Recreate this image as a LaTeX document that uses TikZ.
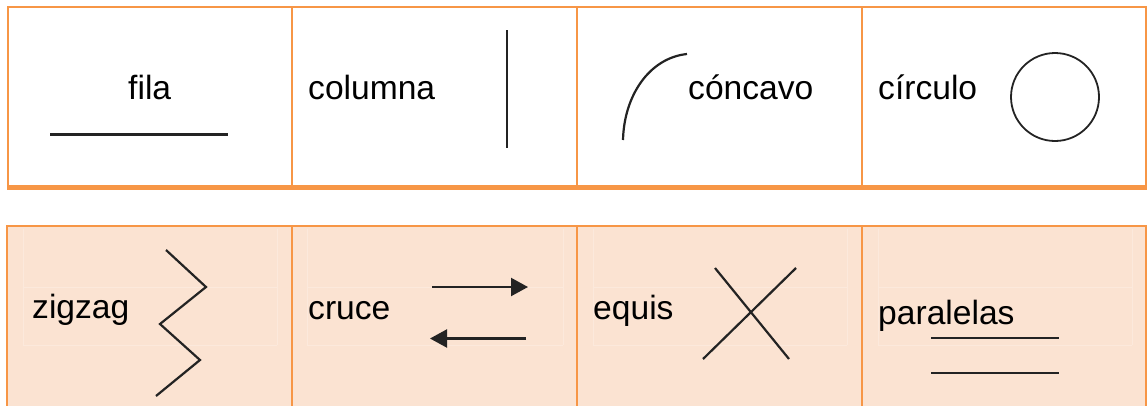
\documentclass[tikz,border=0pt]{standalone}
\usepackage{fontspec}
\setmainfont{Liberation Sans}
\usetikzlibrary{arrows.meta}
\definecolor{orng}{RGB}{247,150,70}
\definecolor{peach}{RGB}{251,227,210}
\definecolor{faint}{RGB}{252,233,220}
\definecolor{ink}{RGB}{35,35,35}
\tikzset{
  lbl/.style={anchor=base west, inner sep=0pt, font=\fontsize{33.6}{40}\selectfont},
  shp/.style={draw=ink, line width=2.2pt},
  border/.style={draw=orng, line width=2pt},
  arr/.style={shp, -{Triangle[length=17pt,width=18pt]}},
}
\begin{document}
\begin{tikzpicture}[x=1pt,y=-1pt]
\useasboundingbox (0,0) rectangle (1147,405);
% bottom row background
\fill[peach] (7,226) rectangle (1146,410);
% faint inner lines of bottom cells
\foreach \a/\b in {23/277,307/563,593/847,878/1132}{
  \draw[faint, line width=1pt] (\a,229) -- (\a,345) (\b,229) -- (\b,345) (\a,287) -- (\b,287) (\a,345) -- (\b,345);
}
% top row borders
\draw[border] (8,7) rectangle (1146,187);
\draw[border] (292,7) -- (292,187) (577,7) -- (577,187) (862,7) -- (862,187);
\draw[draw=orng, line width=4.5pt] (7,187.5) -- (1147,187.5);
% bottom row borders
\draw[border] (7,410) -- (7,226) -- (1146,226) -- (1146,410);
\draw[border] (292,226) -- (292,410) (577,226) -- (577,410) (862,226) -- (862,410);

% top row contents
\node[lbl] (fila) at (128,99) {fila};
\draw[shp] (50,134.5) -- (228,134.5);
\node[lbl] (columna) at (308,99) {columna};
\draw[shp] (507,30) -- (507,148);
\node[lbl] (concavo) at (688,99) {cóncavo};
\draw[shp] (623,140) .. controls (624,96) and (649,58) .. (687,54);
\node[lbl] (circulo) at (878,99) {círculo};
\draw[shp, line width=1.8pt] (1055,97) circle (44);

% bottom row contents
\node[lbl] (zigzag) at (32,318) {zigzag};
\draw[shp] (166,250) -- (206,287) -- (160,324) -- (200,360) -- (156,396);
\node[lbl] (cruce) at (308,319) {cruce};
\draw[arr] (432,287) -- (528,287);
\draw[arr] (526,338.5) -- (430,338.5);
\node[lbl] (equis) at (593,319) {equis};
\draw[shp] (715,268) -- (789,359);
\draw[shp] (796,268) -- (703,359);
\node[lbl] (paralelas) at (878,324) {paralelas};
\draw[shp] (931,338) -- (1059,338);
\draw[shp] (931,373) -- (1059,373);
\end{tikzpicture}
\end{document}
